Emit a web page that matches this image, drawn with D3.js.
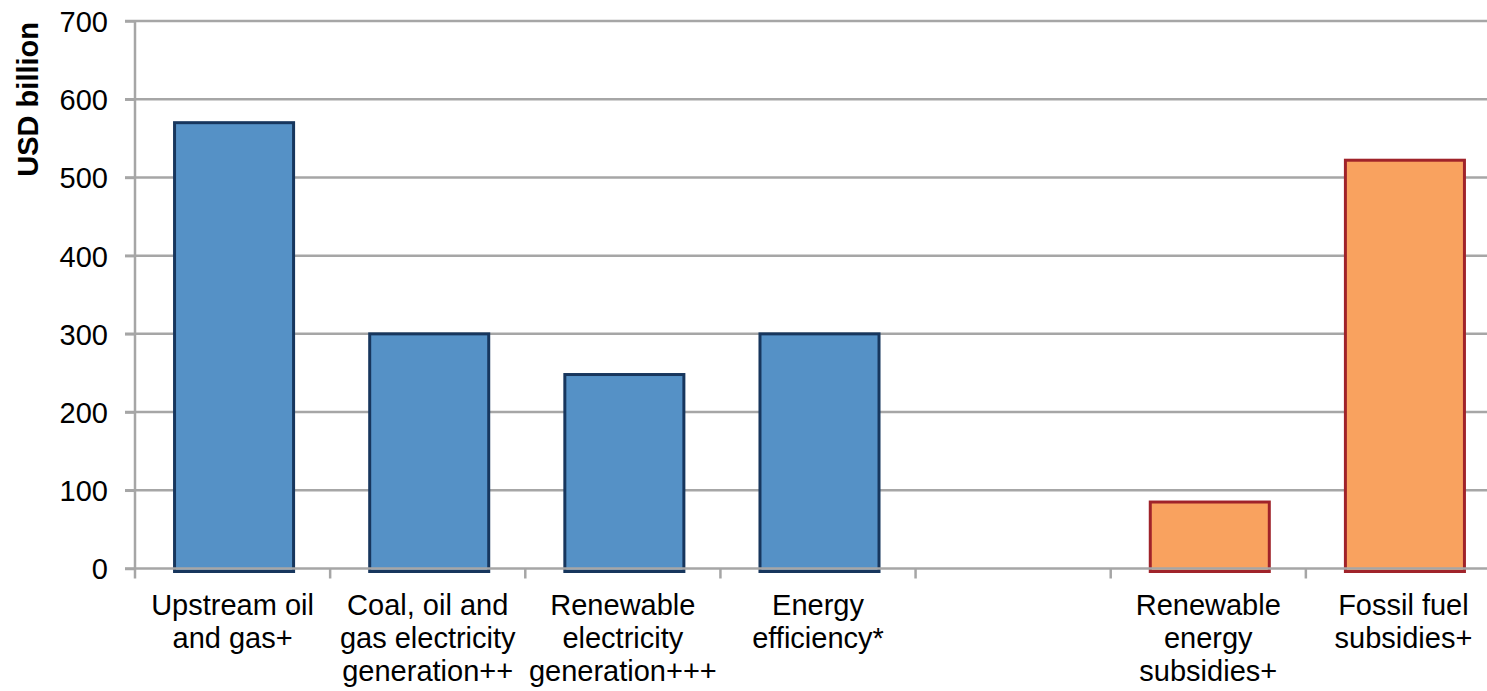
<!DOCTYPE html>
<html>
<head>
<meta charset="utf-8">
<script src="https://cdn.jsdelivr.net/npm/d3@7"></script>
<style>
  body { margin: 0; background: #fff; }
  text { font-family: "Liberation Sans", Arial, sans-serif; fill: #000; }
</style>
</head>
<body>
<div id="chart"></div>
<script>
// categories (label lines), gap slot has empty label
var categories = ["upstream", "fossilGen", "renewGen", "efficiency", "gap", "renewSub", "fossilSub"];
var labels = [
    ["Upstream oil", "and gas+"],
    ["Coal, oil and", "gas electricity", "generation++"],
    ["Renewable", "electricity", "generation+++"],
    ["Energy", "efficiency*"],
    [],
    ["Renewable", "energy", "subsidies+"],
    ["Fossil fuel", "subsidies+"]
];
var values = [570, 300, 248, 300, null, 85, 522];
var group = ["invest", "invest", "invest", "invest", null, "subsidy", "subsidy"];
var yTicks = [0, 100, 200, 300, 400, 500, 600, 700];

var fills = {invest: "#5591C6", subsidy: "#F9A25F"};
var strokes = {invest: "#17365D", subsidy: "#A0232A"};

var W = 1487, H = 691;
var margin = {top: 21, left: 135, bottom: 122};
var plotRight = 1501;

var svg = d3.select("#chart").append("svg")
    .attr("width", W)
    .attr("height", H);

var x = d3.scaleBand().domain(categories).range([margin.left, plotRight]).padding(0);
var y = d3.scaleLinear().domain([0, 700]).range([H - margin.bottom - 0.5, margin.top]);

var gridColor = "#A6A6A6";

// gridlines
svg.append("g")
    .selectAll("line")
    .data(yTicks.filter(function (d) { return d > 0 }))
    .enter().append("line")
    .attr("x1", margin.left - 10)
    .attr("x2", W)
    .attr("y1", function (d) { return y(d) })
    .attr("y2", function (d) { return y(d) })
    .style("stroke", gridColor)
    .style("stroke-width", 2.5);

// bars
var barW = x.bandwidth() * 0.61;
var data = categories.map(function (c, i) {
    return {cat: c, value: values[i], group: group[i]};
}).filter(function (d) { return d.value != null });

svg.selectAll(".bar")
    .data(data)
    .enter().append("rect")
    .attr("class", "bar")
    .attr("x", function (d) { return x(d.cat) + (x.bandwidth() - barW) / 2 + 1.5 })
    .attr("y", function (d) { return y(d.value) })
    .attr("width", barW)
    .attr("height", function (d) { return y(0) - y(d.value) + 3 })
    .style("fill", function (d) { return fills[d.group] })
    .style("stroke", function (d) { return strokes[d.group] })
    .style("stroke-width", 3);

// y axis
var yAxis = svg.append("g")
    .attr("transform", "translate(" + margin.left + ",0)")
    .call(d3.axisLeft(y).tickValues(yTicks).tickSize(10).tickPadding(17));
yAxis.select(".domain").remove();
yAxis.selectAll("line").style("stroke", gridColor).style("stroke-width", 2.5);
yAxis.selectAll("text")
    .style("font-size", "29px")
    .style("font-family", "Liberation Sans, Arial, sans-serif")
    .attr("dy", "0.36em");

yAxis.append("line")
    .attr("x1", 0).attr("x2", 0)
    .attr("y1", margin.top).attr("y2", y(0) + 10)
    .style("stroke", gridColor).style("stroke-width", 2.5);

// x axis baseline + slot ticks
svg.append("line")
    .attr("x1", margin.left - 10).attr("x2", W)
    .attr("y1", y(0)).attr("y2", y(0))
    .style("stroke", gridColor).style("stroke-width", 2.5);

svg.append("g")
    .selectAll("line")
    .data(categories.slice(1))
    .enter().append("line")
    .attr("x1", function (d) { return x(d) })
    .attr("x2", function (d) { return x(d) })
    .attr("y1", y(0))
    .attr("y2", y(0) + 10)
    .style("stroke", gridColor).style("stroke-width", 2.5);

// category labels
var catLabels = svg.append("g").selectAll("text")
    .data(categories)
    .enter().append("text")
    .attr("x", function (d) { return x(d) + x.bandwidth() / 2 })
    .attr("y", 615)
    .attr("text-anchor", "middle")
    .style("font-size", "29px");

catLabels.each(function (d, i) {
    var t = d3.select(this);
    labels[i].forEach(function (line, j) {
        t.append("tspan")
            .attr("x", x(d) + x.bandwidth() / 2)
            .attr("dy", j == 0 ? 0 : 33)
            .text(line);
    });
});

// y axis title
svg.append("text")
    .attr("transform", "translate(38," + 22 + ") rotate(-90)")
    .attr("text-anchor", "end")
    .style("font-size", "29px")
    .style("font-weight", "bold")
    .text("USD billion");
</script>
</body>
</html>
